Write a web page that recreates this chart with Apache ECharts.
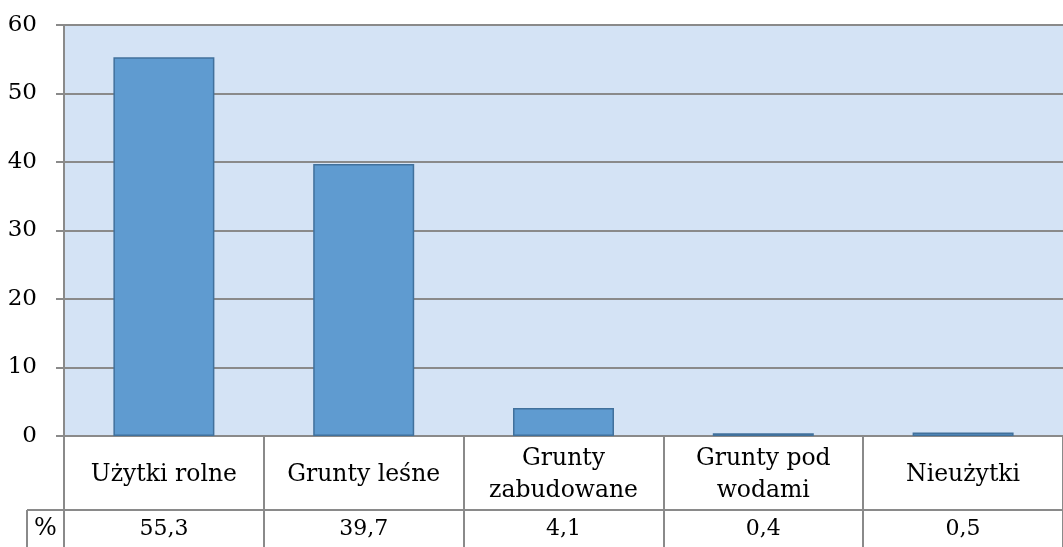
<!DOCTYPE html>
<html><head><meta charset="utf-8">
<script src="https://cdn.jsdelivr.net/npm/echarts@6/dist/echarts.min.js"></script>
<style>html,body{margin:0;padding:0;background:#fff}#c{width:1063px;height:547px}</style>
</head><body><div id="c"></div>
<script>
const categories = ['Użytki rolne', 'Grunty leśne', 'Grunty\nzabudowane', 'Grunty pod\nwodami', 'Nieużytki'];
const values = [55.3, 39.7, 4.1, 0.4, 0.5];
const valueLabels = ['55,3', '39,7', '4,1', '0,4', '0,5'];
const rowLabel = '%';

const FONT = 'DejaVu Serif';
const GRAY = '#8a8a8a';
const G = {left: 64, top: 25, right: -9, bottom: 111};
const chart = echarts.init(document.getElementById('c'));
chart.setOption({
  animation: false,
  grid: {left: G.left, top: G.top, right: G.right, bottom: G.bottom, show: true, backgroundColor: '#d4e3f5', borderWidth: 0, containLabel: false},
  xAxis: [{
    type: 'category', data: categories, position: 'bottom',
    axisLine: {show: true, lineStyle: {color: GRAY, width: 2}},
    axisTick: {show: true, interval: 0, length: 111, lineStyle: {color: GRAY, width: 2}},
    axisLabel: {interval: 0, margin: 39, verticalAlign: 'middle', color: '#000', fontFamily: FONT, fontSize: 23.5, lineHeight: 32},
    splitLine: {show: false}
  }, {
    type: 'category', data: valueLabels, position: 'bottom', offset: 74,
    axisLine: {show: true, lineStyle: {color: GRAY, width: 2}},
    axisTick: {show: false},
    axisLabel: {interval: 0, margin: 19, verticalAlign: 'middle', color: '#000', fontFamily: FONT, fontSize: 22}
  }],
  yAxis: {
    type: 'value', min: 0, max: 60, interval: 10,
    axisLine: {show: true, lineStyle: {color: GRAY, width: 2}},
    axisTick: {show: true, length: 8, lineStyle: {color: GRAY, width: 2}},
    axisLabel: {margin: 27, color: '#000', fontFamily: FONT, fontSize: 23},
    splitLine: {show: true, lineStyle: {color: GRAY, width: 2}}
  },
  series: [{
    type: 'bar', data: values, barWidth: 101, xAxisIndex: 0,
    itemStyle: {color: '#5f9bd0', borderColor: '#41719c', borderWidth: 1.5}
  }]
});
const H = 547;
const rowY = H - G.bottom + 74;
chart.setOption({
  graphic: [
    {type: 'line', shape: {x1: 27, y1: rowY, x2: G.left, y2: rowY}, style: {stroke: GRAY, lineWidth: 2}},
    {type: 'line', shape: {x1: 27, y1: rowY, x2: 27, y2: H}, style: {stroke: GRAY, lineWidth: 2}},
    {type: 'text', x: (27 + G.left) / 2, y: (rowY + H) / 2, style: {text: rowLabel, fontFamily: FONT, fontSize: 24, fill: '#000', align: 'center', verticalAlign: 'middle'}}
  ]
});
</script></body></html>
